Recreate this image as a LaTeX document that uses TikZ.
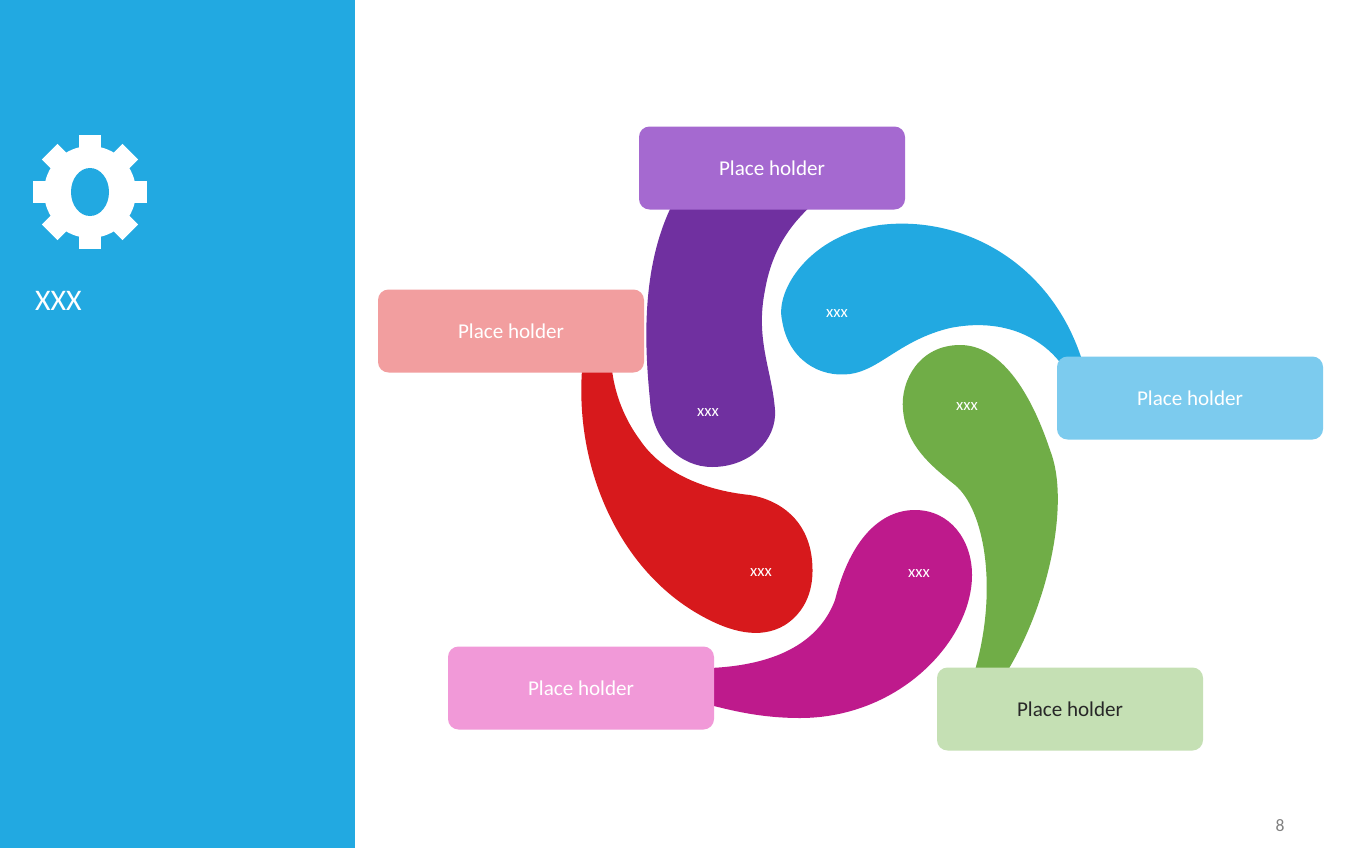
\documentclass[tikz,border=0pt]{standalone}
\usepackage{fontspec}
\setmainfont{Carlito}
\begin{document}
\begin{tikzpicture}[x=0.02cm,y=-0.02cm,
  box/.style={rounded corners=6pt,minimum width=266*0.02cm,minimum height=83*0.02cm,inner sep=0pt,font=\fontsize{12}{14}\selectfont,text=white},
  lbl/.style={text=white,font=\fontsize{9.5}{11}\selectfont}]
\definecolor{sky}{HTML}{22A9E1}
\useasboundingbox (0,0) rectangle (1368,848);
\fill[white] (0,0) rectangle (1368,848);
\fill[sky] (0,0) rectangle (355,848);
% gear
\begin{scope}[shift={(90,192)}]
  \fill[white] (0,0) circle (46);
  \foreach \a in {0,45,...,315}{\fill[white,rotate=\a] (-11,-35) rectangle (11,-57);}
  \fill[sky] (0,0) ellipse (19 and 24);
\end{scope}
\node[text=white,font=\fontsize{17}{20}\selectfont,anchor=west] (t) at (29,301) {XXX};
% swirl pieces
\fill[color={rgb,255:red,112;green,48;blue,160}] (672,205) .. controls (640,270) and (645,350) .. (650,400) .. controls (652,440) and (680,467) .. (712,467) .. controls (750,467) and (777,440) .. (775,410) .. controls (772,370) and (755,340) .. (765,290) .. controls (772,250) and (790,225) .. (812,205) -- cycle;
\fill[sky] (1082,360) .. controls (1050,260) and (960,215) .. (880,225) .. controls (810,235) and (775,290) .. (782,320) .. controls (788,360) and (820,378) .. (850,374) .. controls (880,370) and (900,340) .. (950,328) .. controls (1000,318) and (1040,335) .. (1062,365) -- cycle;
\fill[color={rgb,255:red,112;green,173;blue,71}] (1008,670) .. controls (1050,600) and (1070,500) .. (1050,450) .. controls (1030,390) and (1000,345) .. (960,345) .. controls (920,345) and (900,380) .. (903,410) .. controls (906,445) and (930,465) .. (955,485) .. controls (985,510) and (998,590) .. (975,670) -- cycle;
\fill[color={rgb,255:red,190;green,26;blue,140}] (710,668) .. controls (780,665) and (820,640) .. (835,600) .. controls (850,540) and (880,510) .. (915,510) .. controls (950,510) and (972,540) .. (972,575) .. controls (972,640) and (900,718) .. (800,718) .. controls (760,718) and (730,710) .. (710,705) -- cycle;
\fill[color={rgb,255:red,215;green,25;blue,28}] (582,370) .. controls (575,470) and (620,570) .. (700,615) .. controls (730,632) and (760,640) .. (785,625) .. controls (805,612) and (815,590) .. (812,560) .. controls (808,520) and (780,500) .. (750,495) .. controls (700,490) and (660,470) .. (640,440) .. controls (625,420) and (615,395) .. (612,370) -- cycle;
\node[lbl] (l1) at (708,413) {xxx};
\node[lbl] (l2) at (837,314) {xxx};
\node[lbl] (l3) at (967,407) {xxx};
\node[lbl] (l4) at (919,574) {xxx};
\node[lbl] (l5) at (761,573) {xxx};
% boxes
\node[box,fill={rgb,255:red,165;green,105;blue,208}] (b1) at (772,168) {Place holder};
\node[box,fill={rgb,255:red,242;green,158;blue,159}] (b2) at (511,331) {Place holder};
\node[box,fill={rgb,255:red,124;green,203;blue,238}] (b3) at (1190,398) {Place holder};
\node[box,fill={rgb,255:red,241;green,153;blue,216}] (b4) at (581,688) {Place holder};
\node[box,fill={rgb,255:red,197;green,224;blue,180},text={rgb,255:red,40;green,40;blue,40}] (b5) at (1070,709) {Place holder};
\node[text=gray,font=\fontsize{10}{12}\selectfont] (pg) at (1280,826) {8};
\end{tikzpicture}
\end{document}
